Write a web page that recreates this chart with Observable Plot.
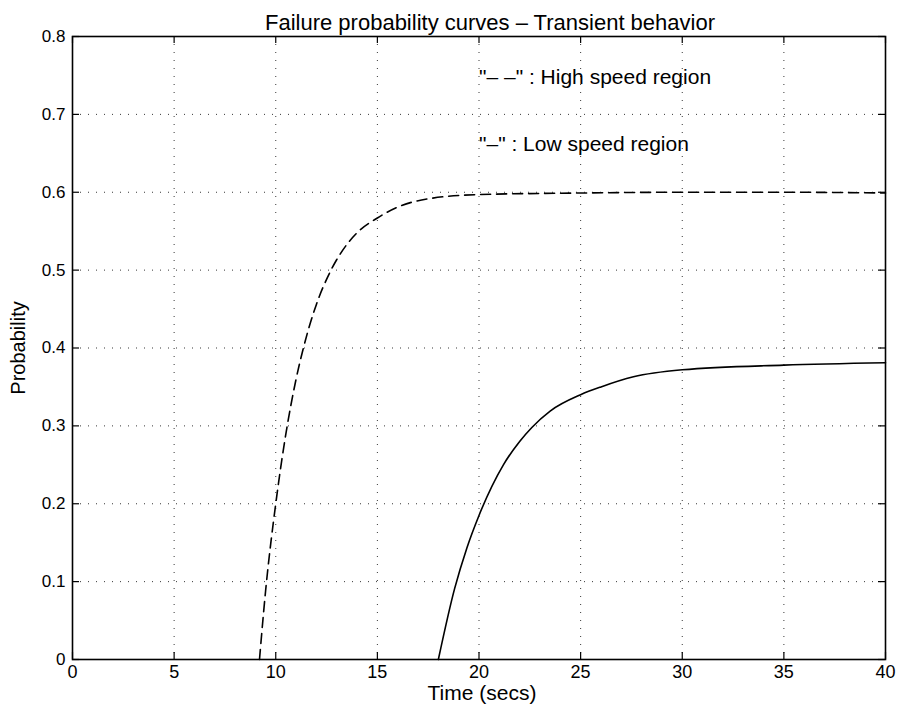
<!DOCTYPE html>
<html>
<head>
<meta charset="utf-8">
<script src="https://cdn.jsdelivr.net/npm/d3@7"></script>
<script src="https://cdn.jsdelivr.net/npm/@observablehq/plot@0.6"></script>
<style>
  html, body { margin: 0; padding: 0; background: #fff; }
  #chart svg { display: block; }
</style>
</head>
<body>
<div id="chart"></div>
<script>
// Data
const titleText = "Failure probability curves \u2013 Transient behavior";
const xLabel = "Time (secs)";
const yLabel = "Probability";
const xTicks = [0, 5, 10, 15, 20, 25, 30, 35, 40];
const yTicks = [0, 0.1, 0.2, 0.3, 0.4, 0.5, 0.6, 0.7, 0.8];

// High speed region (dashed)
const highTime = [9.2, 9.5, 10.0, 10.5, 11.0, 11.4, 12.0, 12.7, 13.5, 14.0, 15.0, 16.0, 17.6, 20.0, 25.0, 30.0, 35.0, 40.0];
const highProb = [0.0, 0.088, 0.2, 0.29, 0.36, 0.404, 0.456, 0.499, 0.533, 0.548, 0.567, 0.581, 0.592, 0.597, 0.599, 0.600, 0.600, 0.599];

// Low speed region (solid)
const lowTime = [18.0, 18.8, 19.4, 20.0, 21.2, 22.0, 22.6, 23.5, 25.0, 26.0, 27.6, 30.0, 35.0, 40.0];
const lowProb = [0.0, 0.091, 0.143, 0.185, 0.25, 0.28, 0.298, 0.319, 0.340, 0.350, 0.363, 0.372, 0.378, 0.381];

// Legend annotations
const notes = [
  {t: 20.0, p: 0.748, label: "\"\u2013 \u2013\" : High speed region"},
  {t: 20.0, p: 0.661, label: "\"\u2013\" : Low speed region"}
];

const high = highTime.map((t, i) => ({t, p: highProb[i]}));
const low = lowTime.map((t, i) => ({t, p: lowProb[i]}));

const W = 901, H = 719;
const mL = 72, mR = 16, mT = 36, mB = 60;
const fw = W - mL - mR, fh = H - mT - mB;
const tick = 7;
const font = "'Liberation Sans', Arial, Helvetica, sans-serif";

const chart = Plot.plot({
  width: W,
  height: H,
  marginLeft: mL,
  marginRight: mR,
  marginTop: mT,
  marginBottom: mB,
  style: {fontFamily: font, background: "#fff", color: "#000"},
  x: {domain: [0, 40], label: null},
  y: {domain: [0, 0.8], label: null},
  marks: [
    // dotted grid
    Plot.gridX(xTicks.slice(1, -1), {stroke: "#222", strokeOpacity: 0.9, strokeWidth: 1, strokeDasharray: "1,7"}),
    Plot.gridY(yTicks.slice(1, -1), {stroke: "#222", strokeOpacity: 0.9, strokeWidth: 1, strokeDasharray: "1,7"}),
    // inward ticks on all four sides
    Plot.tickX(xTicks, {x: d => d, insetTop: fh - tick, stroke: "#000", strokeWidth: 1.2}),
    Plot.tickX(xTicks, {x: d => d, insetBottom: fh - tick, stroke: "#000", strokeWidth: 1.2}),
    Plot.tickY(yTicks, {y: d => d, insetRight: fw - tick, stroke: "#000", strokeWidth: 1.2}),
    Plot.tickY(yTicks, {y: d => d, insetLeft: fw - tick, stroke: "#000", strokeWidth: 1.2}),
    // curves
    Plot.line(high, {x: "t", y: "p", curve: "monotone-x", stroke: "#000", strokeWidth: 1.6, strokeDasharray: "10,6"}),
    Plot.line(low, {x: "t", y: "p", curve: "monotone-x", stroke: "#000", strokeWidth: 1.6}),
    // frame
    Plot.frame({stroke: "#000", strokeWidth: 1.6}),
    // tick labels
    Plot.axisX(xTicks, {tickSize: 0, tickPadding: 6, fontSize: 18, tickFormat: d => String(d), label: null}),
    Plot.axisY(yTicks, {tickSize: 0, tickPadding: 7, fontSize: 17, tickFormat: d => d === 0 ? "0" : d.toFixed(1), label: null}),
    // axis labels
    Plot.text([xLabel], {frameAnchor: "bottom", dy: 40, dx: 3, fontSize: 21, fill: "#000"}),
    Plot.text([yLabel], {frameAnchor: "left", textAnchor: "middle", dx: -54, rotate: -90, fontSize: 20, fill: "#000"}),
    // title
    Plot.text([titleText], {frameAnchor: "top", dy: -22, dx: 11, fontSize: 22, fill: "#000"}),
    // legend annotations
    Plot.text(notes, {x: "t", y: "p", text: "label", textAnchor: "start", fontSize: 21, fill: "#000"})
  ]
});

document.getElementById("chart").appendChild(chart);
</script>
</body>
</html>
